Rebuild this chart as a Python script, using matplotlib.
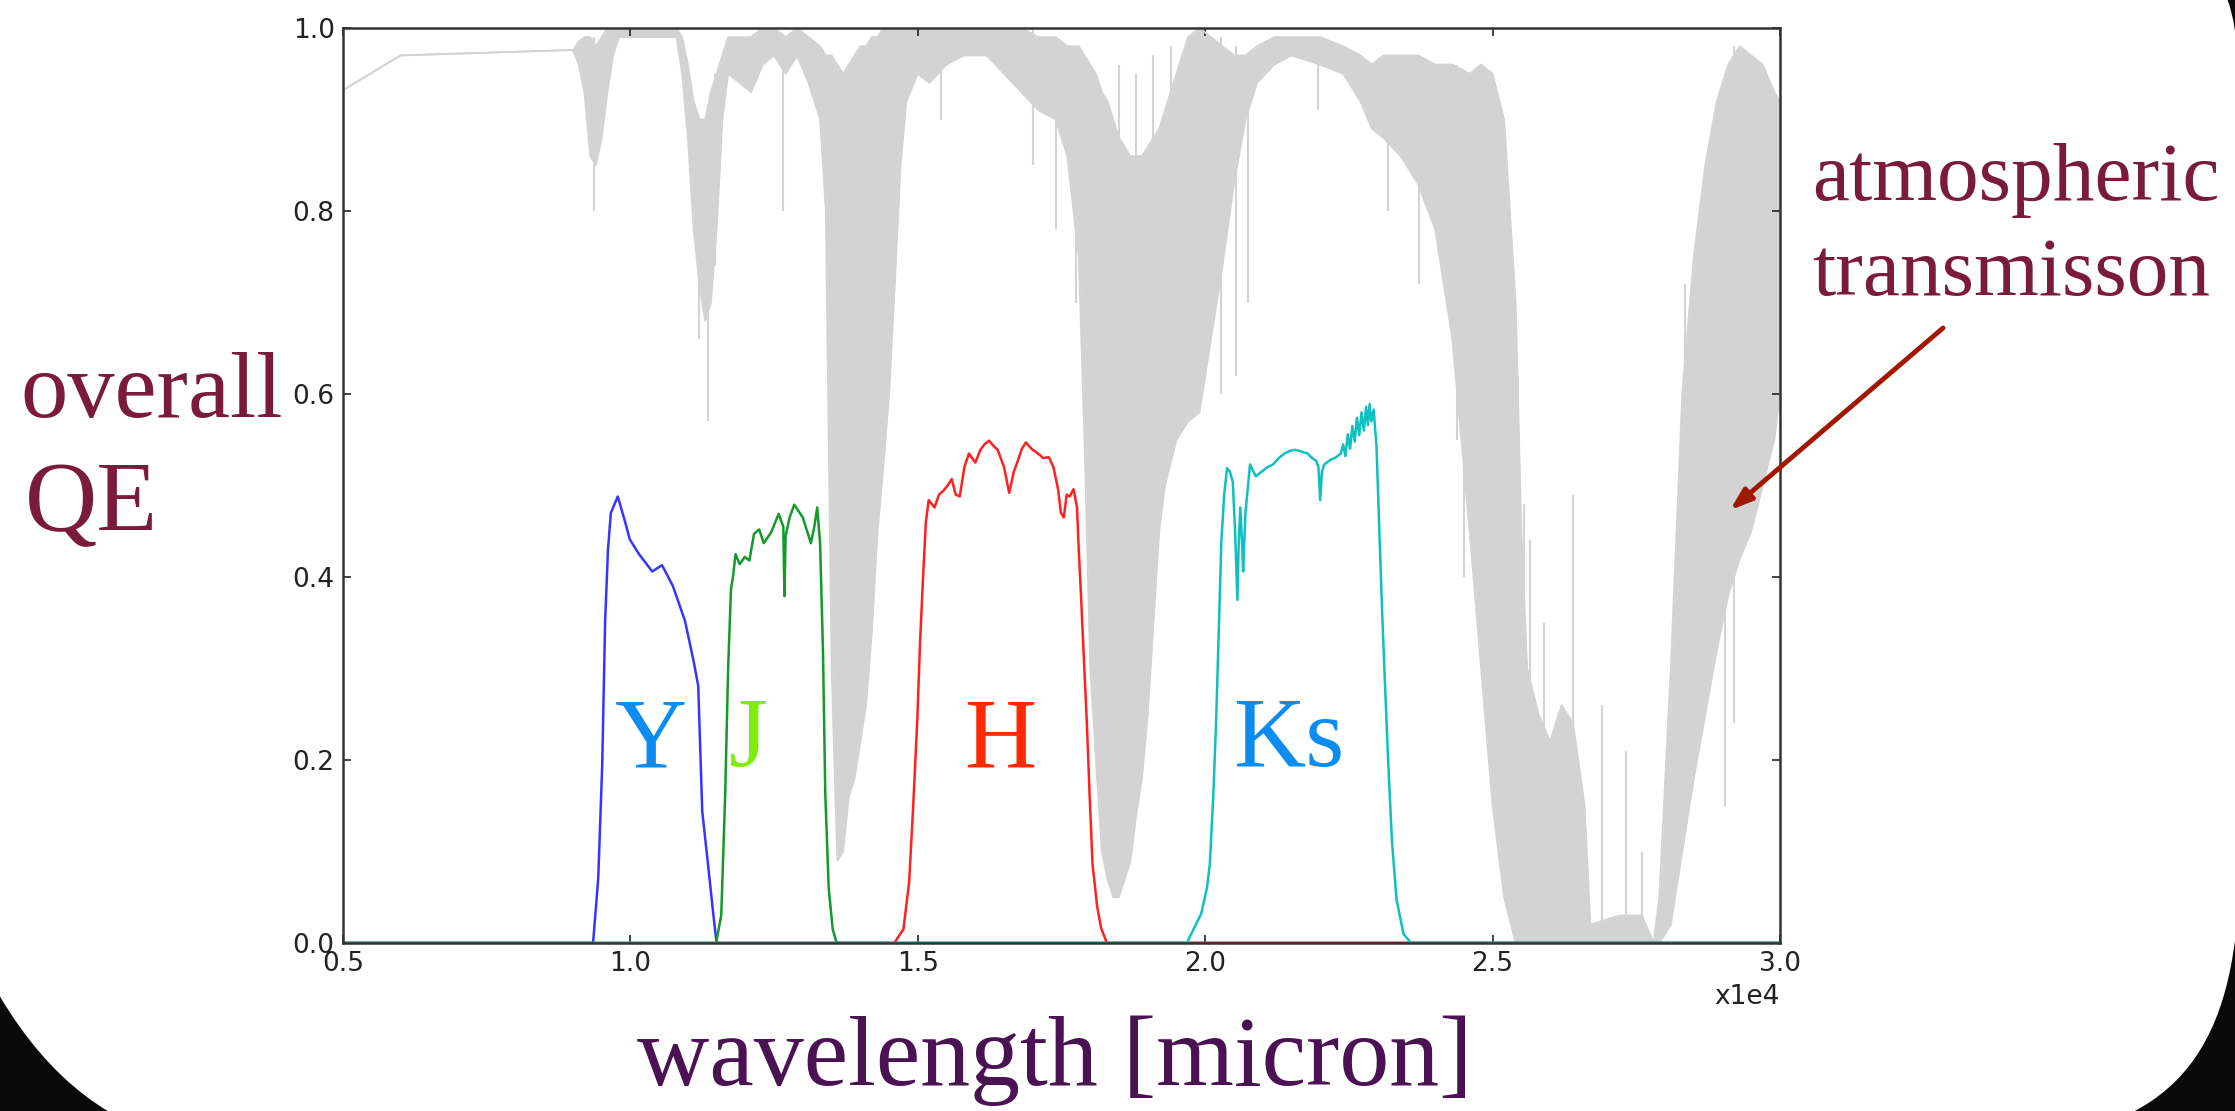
import matplotlib.pyplot as plt
from matplotlib.path import Path
from matplotlib.patches import PathPatch
from matplotlib.transforms import Affine2D

# --- filter throughput curves (wavelength in units of 1e4 A) ---
y_wave = [0.50, 0.935, 0.944, 0.951, 0.956, 0.961, 0.966, 0.978, 0.990, 0.999, 1.015,
          1.038, 1.055, 1.074, 1.095, 1.110, 1.118, 1.125, 1.135, 1.145, 1.150, 3.00]
y_qe = [0, 0, 0.07, 0.195, 0.351, 0.43, 0.47, 0.488, 0.462, 0.441, 0.425,
        0.406, 0.413, 0.39, 0.352, 0.308, 0.281, 0.144, 0.086, 0.027, 0, 0]

j_wave = [0.50, 1.149, 1.158, 1.165, 1.170, 1.175, 1.178, 1.183, 1.190, 1.199, 1.207,
          1.215, 1.224, 1.232, 1.245, 1.258, 1.266, 1.268, 1.270, 1.277, 1.285, 1.300,
          1.314, 1.320, 1.325, 1.330, 1.335, 1.339, 1.345, 1.352, 1.359, 3.00]
j_qe = [0, 0, 0.03, 0.164, 0.30, 0.387, 0.398, 0.425, 0.414, 0.422, 0.418,
        0.447, 0.452, 0.437, 0.449, 0.469, 0.455, 0.379, 0.445, 0.465, 0.479, 0.465,
        0.437, 0.455, 0.476, 0.437, 0.32, 0.164, 0.06, 0.015, 0, 0]

h_wave = [0.50, 1.459, 1.475, 1.485, 1.492, 1.499, 1.504, 1.509, 1.514, 1.519, 1.529,
          1.537, 1.544, 1.552, 1.559, 1.566, 1.573, 1.581, 1.589, 1.600, 1.609, 1.616,
          1.624, 1.632, 1.639, 1.650, 1.659, 1.667, 1.674, 1.681, 1.688, 1.698, 1.709,
          1.718, 1.728, 1.736, 1.744, 1.749, 1.754, 1.759, 1.764, 1.771, 1.777, 1.780,
          1.784, 1.789, 1.794, 1.799, 1.804, 1.812, 1.819, 1.829, 3.00]
h_qe = [0, 0, 0.015, 0.067, 0.15, 0.242, 0.33, 0.398, 0.46, 0.484, 0.476,
        0.49, 0.494, 0.50, 0.507, 0.49, 0.488, 0.52, 0.535, 0.525, 0.539, 0.545,
        0.549, 0.543, 0.539, 0.52, 0.492, 0.515, 0.527, 0.54, 0.547, 0.54, 0.535,
        0.53, 0.531, 0.52, 0.496, 0.47, 0.465, 0.49, 0.488, 0.496, 0.476, 0.43,
        0.379, 0.31, 0.242, 0.16, 0.086, 0.04, 0.016, 0, 0]

k_wave = [0.50, 1.968, 1.993, 2.003, 2.008, 2.014, 2.019, 2.024, 2.028, 2.033, 2.038,
          2.043, 2.048, 2.052, 2.056, 2.058, 2.061, 2.064, 2.066, 2.070, 2.078, 2.088,
          2.098, 2.108, 2.118, 2.128, 2.138, 2.148, 2.157, 2.168, 2.178, 2.186, 2.193,
          2.197, 2.200, 2.203, 2.207, 2.218, 2.228, 2.236, 2.240, 2.244, 2.248, 2.252,
          2.256, 2.260, 2.264, 2.268, 2.272, 2.276, 2.280, 2.283, 2.286, 2.289, 2.293,
          2.298, 2.303, 2.308, 2.313, 2.318, 2.325, 2.333, 2.345, 2.358, 3.00]
k_qe = [0, 0, 0.032, 0.06, 0.086, 0.16, 0.242, 0.35, 0.437, 0.49, 0.519,
        0.515, 0.504, 0.45, 0.375, 0.43, 0.476, 0.44, 0.406, 0.47, 0.523, 0.51,
        0.515, 0.52, 0.523, 0.53, 0.535, 0.538, 0.539, 0.537, 0.535, 0.53, 0.527,
        0.52, 0.484, 0.515, 0.523, 0.528, 0.531, 0.535, 0.545, 0.532, 0.556, 0.54,
        0.565, 0.548, 0.574, 0.555, 0.58, 0.56, 0.586, 0.566, 0.589, 0.57, 0.583,
        0.543, 0.45, 0.359, 0.28, 0.203, 0.11, 0.047, 0.01, 0, 0]

# --- atmospheric transmission: upper / lower envelope of the dense spectrum ---
atm_x = [0.50, 0.60, 0.90, 0.91, 0.92, 0.93, 0.94, 0.95, 0.96, 0.97, 0.98, 1.08,
         1.09, 1.10, 1.11, 1.12, 1.13, 1.14, 1.15, 1.16, 1.17, 1.19, 1.21, 1.23,
         1.25, 1.27, 1.29, 1.31, 1.33, 1.34, 1.35, 1.36, 1.37, 1.38, 1.39, 1.40,
         1.41, 1.42, 1.43, 1.44, 1.45, 1.46, 1.47, 1.48, 1.50, 1.52, 1.55, 1.58,
         1.62, 1.65, 1.68, 1.71, 1.74, 1.76, 1.78, 1.79, 1.80, 1.81, 1.82, 1.83,
         1.84, 1.85, 1.86, 1.87, 1.88, 1.89, 1.90, 1.91, 1.92, 1.93, 1.95, 1.97,
         1.99, 2.01, 2.03, 2.05, 2.07, 2.09, 2.12, 2.15, 2.20, 2.24, 2.27, 2.29,
         2.31, 2.34, 2.37, 2.40, 2.43, 2.46, 2.48, 2.50, 2.52, 2.54, 2.55, 2.56,
         2.58, 2.60, 2.62, 2.64, 2.66, 2.67, 2.72, 2.76, 2.78, 2.79, 2.81, 2.83,
         2.85, 2.87, 2.89, 2.91, 2.93, 2.95, 2.97, 2.99, 3.00]
atm_hi = [0.932, 0.970, 0.976, 0.985, 0.99, 0.99, 0.98, 0.99, 1.0, 1.0, 1.0, 1.0,
          0.99, 0.96, 0.92, 0.90, 0.90, 0.93, 0.95, 0.97, 0.99, 0.99, 0.99, 1.0,
          1.0, 0.99, 1.0, 0.99, 0.98, 0.97, 0.97, 0.96, 0.95, 0.96, 0.97, 0.98,
          0.98, 0.99, 0.99, 1.0, 1.0, 1.0, 1.0, 1.0, 1.0, 1.0, 1.0, 1.0,
          1.0, 1.0, 1.0, 0.99, 0.99, 0.98, 0.98, 0.97, 0.96, 0.95, 0.93, 0.92,
          0.90, 0.88, 0.87, 0.86, 0.86, 0.86, 0.87, 0.88, 0.89, 0.91, 0.95, 0.99,
          1.0, 0.99, 0.98, 0.97, 0.97, 0.98, 0.99, 0.99, 0.99, 0.98, 0.97, 0.96,
          0.97, 0.97, 0.97, 0.96, 0.96, 0.95, 0.96, 0.95, 0.90, 0.70, 0.45, 0.30,
          0.25, 0.22, 0.26, 0.24, 0.15, 0.02, 0.03, 0.03, 0.0, 0.05, 0.30, 0.60,
          0.75, 0.85, 0.92, 0.96, 0.98, 0.97, 0.96, 0.93, 0.92]
atm_lo = [0.932, 0.970, 0.976, 0.960, 0.93, 0.86, 0.85, 0.88, 0.93, 0.97, 0.99, 0.99,
          0.95, 0.88, 0.78, 0.72, 0.68, 0.70, 0.78, 0.90, 0.95, 0.94, 0.93, 0.96,
          0.97, 0.95, 0.97, 0.94, 0.90, 0.80, 0.30, 0.09, 0.10, 0.16, 0.18, 0.22,
          0.26, 0.34, 0.45, 0.52, 0.60, 0.72, 0.85, 0.92, 0.95, 0.94, 0.96, 0.97,
          0.97, 0.95, 0.93, 0.91, 0.90, 0.86, 0.75, 0.55, 0.30, 0.20, 0.10, 0.07,
          0.05, 0.05, 0.07, 0.09, 0.14, 0.18, 0.25, 0.35, 0.45, 0.50, 0.55, 0.57,
          0.58, 0.66, 0.74, 0.83, 0.90, 0.94, 0.96, 0.97, 0.96, 0.95, 0.92, 0.89,
          0.88, 0.86, 0.83, 0.78, 0.66, 0.45, 0.30, 0.15, 0.05, 0.0, 0.0, 0.0,
          0.0, 0.0, 0.0, 0.0, 0.0, 0.0, 0.0, 0.0, 0.0, 0.0, 0.02, 0.10,
          0.18, 0.25, 0.32, 0.38, 0.42, 0.45, 0.50, 0.55, 0.60]

# narrow absorption / emission lines sticking out of the envelope
line_x = [0.937, 1.120, 1.135, 1.147, 1.265, 1.345, 1.540, 1.700, 1.740, 1.775,
          1.850, 1.880, 1.910, 1.940,
          2.027, 2.054, 2.075, 2.197, 2.318, 2.372, 2.438, 2.450, 2.477,
          2.545, 2.555, 2.565, 2.590, 2.640, 2.690, 2.732, 2.760, 2.834, 2.845,
          2.905, 2.920]
line_lo = [0.80, 0.66, 0.57, 0.74, 0.80, 0.60, 0.90, 0.85, 0.78, 0.70,
           0.40, 0.50, 0.60, 0.70,
           0.60, 0.62, 0.70, 0.91, 0.80, 0.72, 0.55, 0.40, 0.35,
           0.0, 0.0, 0.0, 0.0, 0.0, 0.0, 0.0, 0.0, 0.30, 0.25,
           0.15, 0.24]
line_hi = [0.99, 0.90, 0.90, 0.95, 0.99, 0.97, 1.0, 1.0, 0.99, 0.98,
           0.96, 0.95, 0.97, 0.98,
           0.99, 0.98, 0.97, 0.99, 0.97, 0.97, 0.96, 0.95, 0.95,
           0.62, 0.48, 0.44, 0.35, 0.49, 0.26, 0.21, 0.10, 0.72, 0.63,
           0.95, 0.98]

labels = ['Y', 'J', 'H', 'Ks']
label_x = [1.036, 1.205, 1.643, 2.145]
label_colors = ['#0a8cf0', '#80ec0c', '#ff2a00', '#0a8cf0']

W, H = 2235, 1111
fig = plt.figure(figsize=(W / 100, H / 100), dpi=100, facecolor='#0a0a0a')

# white rounded "slide" on black background (pixel coords, y pointing down)
verts = [(-20, -20), (2210, -20), (2238, -15), (2240, 100), (2240, 850),
         (2240, 1000), (2210, 1110), (2060, 1135), (160, 1135),
         (90, 1112), (30, 1060), (-20, 960), (-20, -20)]
codes = [Path.MOVETO, Path.LINETO, Path.CURVE3, Path.CURVE3, Path.LINETO,
         Path.CURVE4, Path.CURVE4, Path.CURVE4, Path.LINETO,
         Path.CURVE4, Path.CURVE4, Path.CURVE4, Path.CLOSEPOLY]
to_fig = Affine2D().scale(1 / W, -1 / H).translate(0, 1) + fig.transFigure
fig.add_artist(PathPatch(Path(verts, codes), facecolor='white', edgecolor='none',
                         transform=to_fig, zorder=-5))

ax = fig.add_axes([343 / W, 1 - 943 / H, (1780 - 343) / W, (943 - 28) / H])
ax.set_facecolor('white')

gray = '#d3d3d3'
ax.fill_between(atm_x, atm_lo, atm_hi, color=gray, lw=0)
ax.plot(atm_x, atm_hi, color=gray, lw=1.3)
ax.plot(atm_x, atm_lo, color=gray, lw=1.3)
ax.vlines(line_x, line_lo, line_hi, color=gray, lw=1.5)

ax.plot(y_wave, y_qe, color='#3535ff', lw=1.8)
ax.plot(j_wave, j_qe, color='#129a2a', lw=1.8)
ax.plot(h_wave, h_qe, color='#ff2020', lw=1.8)
ax.plot(k_wave, k_qe, color='#10c0c0', lw=1.8)

for lab, lx, lc in zip(labels, label_x, label_colors):
    ax.text(lx, 0.193, lab, color=lc, fontsize=72, family='Liberation Serif',
            ha='center', va='baseline')

ax.set_xlim(0.5, 3.0)
ax.set_ylim(0, 1.0)
ax.set_xticks([0.5, 1.0, 1.5, 2.0, 2.5, 3.0])
ax.set_yticks([0.0, 0.2, 0.4, 0.6, 0.8, 1.0])
ax.tick_params(direction='in', length=6, width=1.2, top=True, right=True,
               labelsize=19, colors='#222222', pad=6)
for sp in ax.spines.values():
    sp.set_color('#333333')
    sp.set_linewidth(1.8)
ax.text(1.0, -0.045, 'x1e4', transform=ax.transAxes, ha='right', va='top',
        fontsize=19, color='#222222')

maroon = '#7a1a3c'
serif = 'Liberation Serif'
fig.text(20 / W, 1 - 417 / H, 'overall', fontsize=68, color=maroon, family=serif,
         va='baseline')
fig.text(25 / W, 1 - 530 / H, 'QE', fontsize=72, color=maroon, family=serif,
         va='baseline')
fig.text(1812 / W, 1 - 200 / H, 'atmospheric', fontsize=60, color=maroon,
         family=serif, va='baseline')
fig.text(1812 / W, 1 - 295 / H, 'transmisson', fontsize=60, color=maroon,
         family=serif, va='baseline')
fig.text(1055 / W, 1 - 1085 / H, 'wavelength [micron]', fontsize=72, color='#4a1252',
         family=serif, ha='center', va='baseline')

ax.annotate('', xy=(2.913, 0.473), xycoords='data',
            xytext=(1943 / W, 1 - 328 / H), textcoords='figure fraction',
            arrowprops=dict(arrowstyle='-|>,head_length=1.3,head_width=0.45',
                            color='#a01800', lw=3.5, shrinkA=0, shrinkB=0),
            annotation_clip=False)

fig.savefig('out.png', dpi=100, facecolor=fig.get_facecolor())
